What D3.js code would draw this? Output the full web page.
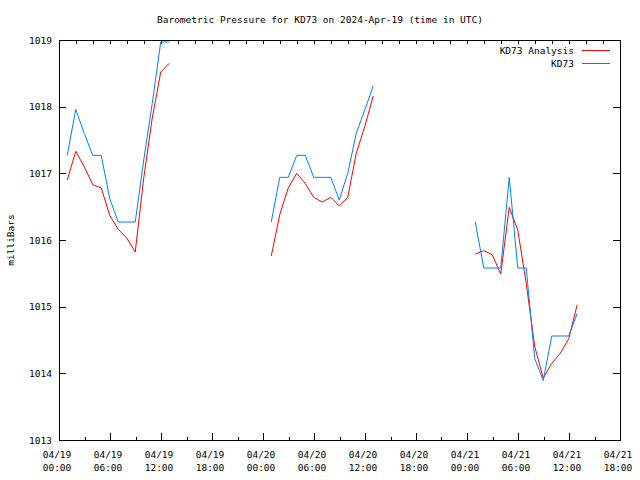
<!DOCTYPE html>
<html><head><meta charset="utf-8">
<script src="https://cdn.jsdelivr.net/npm/d3@7"></script>
<style>
body{margin:0;background:#fff;}
text{font-family:"DejaVu Sans Mono","Liberation Mono",monospace;font-size:9.5px;fill:#000;}
</style></head>
<body><svg id="c" width="640" height="480"></svg>
<script>
// hours after 2024-04-19 00:00 UTC
const hours = [
  0.97,1.97,2.97,3.97,4.97,5.97,6.97,7.97,8.97,9.97,10.97,11.97,12.97,
  24.97,25.97,26.97,27.97,28.97,29.97,30.97,31.97,32.97,33.97,34.97,35.97,36.97,
  48.97,49.97,50.97,51.97,52.97,53.97,54.97,55.97,56.97,57.97,58.97,59.97,60.97
];
const kd73 = [
  1017.27,1017.96,1017.60,1017.27,1017.27,1016.62,1016.27,1016.27,1016.27,1017.20,1018.05,1018.97,1018.97,
  1016.27,1016.94,1016.94,1017.27,1017.27,1016.94,1016.94,1016.94,1016.60,1017.00,1017.60,1017.95,1018.31,
  1016.27,1015.58,1015.58,1015.58,1016.94,1015.58,1015.58,1014.22,1013.89,1014.56,1014.56,1014.56,1014.90
];
const analysis = [
  1016.90,1017.33,1017.10,1016.83,1016.78,1016.37,1016.16,1016.03,1015.82,1016.93,1017.83,1018.52,1018.65,
  1015.76,1016.38,1016.78,1017.00,1016.85,1016.64,1016.57,1016.64,1016.51,1016.64,1017.30,1017.70,1018.16,
  1015.79,1015.84,1015.78,1015.49,1016.49,1016.15,1015.35,1014.40,1013.93,1014.15,1014.30,1014.52,1015.03
];
const yTicks = [1013,1014,1015,1016,1017,1018,1019];
const seriesNames = ["KD73 Analysis","KD73"];
const seriesColors = ["#ff0000","#0080ff"];
const titleText = "Barometric Pressure for KD73 on 2024-Apr-19 (time in UTC)";
const yLabel = "milliBars";

const t0 = Date.UTC(2024,3,19,0,0);
const toDate = h => new Date(t0 + h*3600000);
const svg = d3.select("#c");
const L=59, R=620, T=40, B=440;
const x = d3.scaleUtc().domain([toDate(0), toDate(66)]).range([L, R]);
const y = d3.scaleLinear().domain([1013,1019]).range([B, T]);

svg.append("rect").attr("width",640).attr("height",480).attr("fill","#fff");

// segments (break where gap > 2h)
function segments(vals){
  const segs=[]; let cur=[];
  hours.forEach((h,i)=>{
    if(cur.length && h - cur[cur.length-1].h > 2){segs.push(cur);cur=[];}
    cur.push({h:h,v:vals[i]});
  });
  if(cur.length) segs.push(cur);
  return segs;
}
const line = d3.line().x(d=>x(toDate(d.h))).y(d=>y(d.v));

// axes
const fmt = d3.utcFormat("%m/%d");
const fmt2 = d3.utcFormat("%H:%M");
const xMajor = d3.utcHour.every(6).range(toDate(0), toDate(66.01));
const xMinor = d3.utcHour.every(3).range(toDate(0), toDate(66.01));
const xTop = d3.utcHour.every(2).range(toDate(0), toDate(66.01));

const ax = svg.append("g").attr("stroke","#000").attr("stroke-width",1).attr("shape-rendering","crispEdges");
xMinor.forEach(d=>{
  const px=Math.round(x(d))+0.5;
  ax.append("line").attr("x1",px).attr("x2",px).attr("y1",B).attr("y2",B-3.5);
});
xMajor.forEach(d=>{
  const px=Math.round(x(d))+0.5;
  ax.append("line").attr("x1",px).attr("x2",px).attr("y1",B).attr("y2",B-7);
});
xTop.forEach(d=>{
  const px=Math.round(x(d))+0.5;
  ax.append("line").attr("x1",px).attr("x2",px).attr("y1",T).attr("y2",T+3.5);
});
yTicks.forEach(v=>{
  const py=Math.round(y(v))+0.5;
  ax.append("line").attr("x1",L).attr("x2",L+7).attr("y1",py).attr("y2",py);
  ax.append("line").attr("x1",R).attr("x2",R-7).attr("y1",py).attr("y2",py);
});
svg.append("rect").attr("x",L+0.5).attr("y",T+0.5).attr("width",R-L).attr("height",B-T)
  .attr("fill","none").attr("stroke","#000").attr("shape-rendering","crispEdges");

yTicks.forEach(v=>{
  svg.append("text").attr("x",L-7).attr("y",y(v)+3.5).attr("text-anchor","end").text(v);
});
xMajor.forEach(d=>{
  const g=svg.append("text").attr("text-anchor","middle");
  g.append("tspan").attr("x",x(d)-2).attr("y",458).text(fmt(d));
  g.append("tspan").attr("x",x(d)-2).attr("y",471).text(fmt2(d));
});
svg.append("text").attr("x",320).attr("y",23).attr("text-anchor","middle").text(titleText);
svg.append("text").attr("transform","translate(14,240) rotate(-90)").attr("text-anchor","middle").text(yLabel);

// series
[analysis,kd73].forEach((vals,i)=>{
  segments(vals).forEach(s=>{
    svg.append("path").attr("d",line(s)).attr("fill","none")
      .attr("stroke",seriesColors[i]).attr("stroke-width",1);
  });
});

// legend
seriesNames.forEach((n,i)=>{
  const ly=50+i*13;
  svg.append("text").attr("x",574).attr("y",ly+3.5).attr("text-anchor","end").text(n);
  svg.append("line").attr("x1",582).attr("x2",610).attr("y1",ly+0.5).attr("y2",ly+0.5)
    .attr("stroke",seriesColors[i]).attr("stroke-width",1).attr("shape-rendering","crispEdges");
});
</script></body></html>
